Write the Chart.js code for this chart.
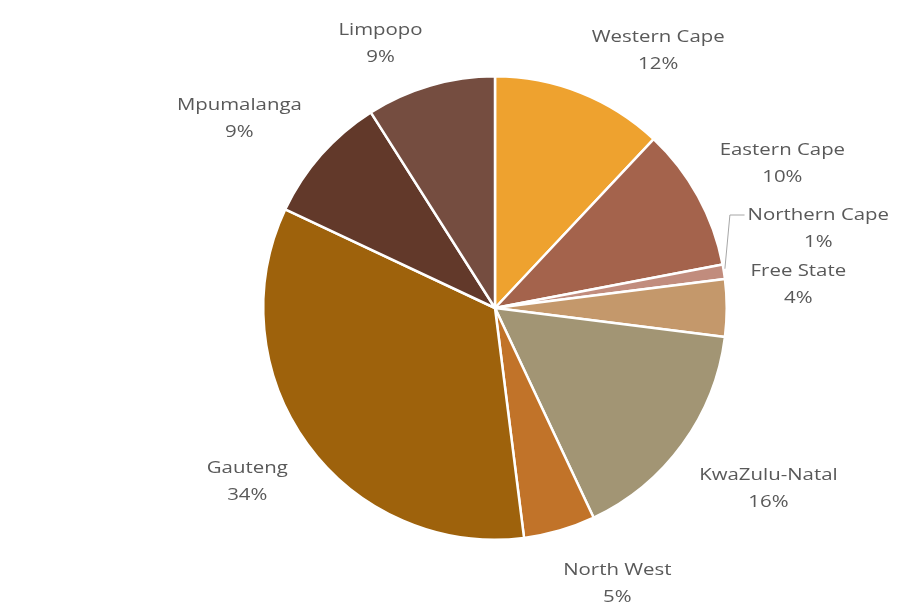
<!DOCTYPE html>
<html>
<head>
<meta charset="utf-8">
<script src="https://cdn.jsdelivr.net/npm/chart.js@4/dist/chart.umd.min.js"></script>
<style>
  html, body { margin: 0; padding: 0; background: #ffffff; }
  #wrap { width: 911px; height: 610px; position: relative; }
</style>
</head>
<body>
<div id="wrap"><canvas id="pie"></canvas></div>
<script>
// Provincial shares, clockwise from 12 o'clock
const provinces = ['Western Cape', 'Eastern Cape', 'Northern Cape', 'Free State',
  'KwaZulu-Natal', 'North West', 'Gauteng', 'Mpumalanga', 'Limpopo'];
const shares = [12, 10, 1, 4, 16, 5, 34, 9, 9];
const sliceColors = ['#EEA22F', '#A4634C', '#C18C7D', '#C4986B',
  '#A29574', '#C17329', '#9E620C', '#62392A', '#754D40'];

// Label anchor points, as offsets from the pie centre in radius units
const labelOffsets = [
  [0.704, -1.112], [1.240, -0.622], [1.395, -0.343], [1.309, -0.099],
  [1.180, 0.781], [0.528, 1.189], [-1.069, 0.751], [-1.103, -0.815], [-0.494, -1.142]
];

const dataLabels = {
  id: 'dataLabels',
  afterDatasetsDraw(chart) {
    const ctx = chart.ctx;
    const meta = chart.getDatasetMeta(0);
    const arc0 = meta.data[0];
    const cx = arc0.x, cy = arc0.y, r = arc0.outerRadius;
    const stretch = 1.2;   // labels are set slightly wide
    const lineGap = 27;
    ctx.save();
    ctx.fillStyle = '#595959';
    ctx.font = '17px "Open Sans", "Liberation Sans", sans-serif';
    ctx.textAlign = 'center';
    ctx.textBaseline = 'middle';
    provinces.forEach((name, i) => {
      const [ox, oy] = labelOffsets[i];
      const x = cx + ox * r, y = cy + oy * r;
      ctx.save();
      ctx.translate(x, y);
      ctx.scale(stretch, 1);
      ctx.fillText(name, 0, -lineGap / 2);
      ctx.fillText(shares[i] + '%', 0, lineGap / 2);
      ctx.restore();
    });
    // leader line for the thin Northern Cape slice
    const a = meta.data[2];
    const mid = (a.startAngle + a.endAngle) / 2;
    const sx = cx + Math.cos(mid) * r, sy = cy + Math.sin(mid) * r;
    const lx = cx + labelOffsets[2][0] * r, ly = cy + labelOffsets[2][1] * r - lineGap / 2;
    const halfW = ctx.measureText(provinces[2]).width * stretch / 2;
    ctx.strokeStyle = '#a6a6a6';
    ctx.lineWidth = 1;
    ctx.beginPath();
    ctx.moveTo(sx + 1, sy - 3);
    ctx.lineTo(sx + 6, ly);
    ctx.lineTo(lx - halfW - 3, ly);
    ctx.stroke();
    ctx.restore();
  }
};

new Chart(document.getElementById('pie'), {
  type: 'pie',
  data: {
    labels: provinces,
    datasets: [{
      data: shares,
      backgroundColor: sliceColors,
      borderColor: '#ffffff',
      borderWidth: 2.5
    }]
  },
  options: {
    responsive: true,
    maintainAspectRatio: false,
    animation: false,
    layout: { padding: { left: 262, right: 183, top: 75, bottom: 69 } },
    plugins: {
      legend: { display: false },
      tooltip: { enabled: false }
    }
  },
  plugins: [dataLabels]
});
</script>
</body>
</html>
